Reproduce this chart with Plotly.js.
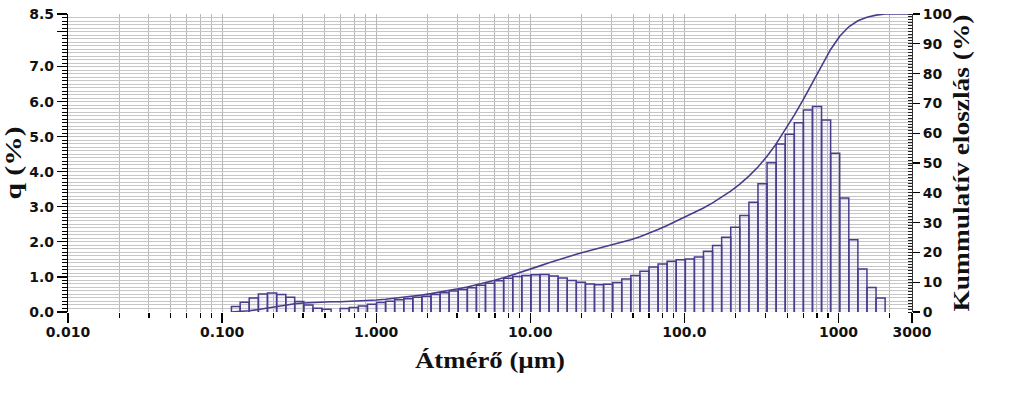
<!DOCTYPE html>
<html><head><meta charset="utf-8">
<script src="https://cdn.plot.ly/plotly-3.0.1.min.js"></script>
<style>html,body{margin:0;padding:0;background:#fff}</style>
</head><body><div id="chart" style="width:1024px;height:396px"></div>
<script>
// Size-class edges (µm) of the histogram bars
const binEdges = [0.115,0.131,0.150,0.172,0.197,0.226,0.259,0.296,0.339,0.389,0.445,0.510,0.584,0.669,0.766,0.877,
  1.005,1.151,1.318,1.510,1.729,1.981,2.269,2.599,2.976,3.409,3.905,4.472,5.122,5.867,6.720,7.697,8.816,
  10.097,11.565,13.246,15.172,17.377,19.904,22.797,26.111,29.907,34.255,39.234,44.938,51.471,58.953,67.523,77.34,88.583,
  101.46,116.21,133.10,152.45,174.62,200.0,229.08,262.38,300.52,344.21,394.25,451.56,517.20,592.39,678.50,777.14,890.12,
  1019.5,1167.7,1337.4,1531.8,1754.6,2009.6];
// q (%) for each size class
const qValues = [0.16,0.28,0.40,0.51,0.54,0.50,0.42,0.30,0.20,0.11,0.08,0.00,0.10,0.13,0.17,0.22,
  0.27,0.31,0.35,0.38,0.42,0.45,0.50,0.55,0.60,0.64,0.69,0.76,0.82,0.89,0.96,1.01,1.04,
  1.06,1.07,1.03,0.97,0.90,0.85,0.80,0.78,0.79,0.84,0.94,1.04,1.16,1.28,1.37,1.45,1.49,
  1.51,1.57,1.73,1.90,2.13,2.42,2.75,3.13,3.66,4.26,4.79,5.07,5.40,5.76,5.86,5.48,4.53,3.25,2.06,1.23,0.70,0.40];
// Cumulative distribution (%)
const cumX = [0.115,0.131,0.150,0.172,0.197,0.226,0.259,0.296,0.339,0.389,0.445,0.510,0.584,0.669,0.766,0.877,
  1.005,1.151,1.318,1.510,1.729,1.981,2.269,2.599,2.976,3.409,3.905,4.472,5.122,5.867,6.720,7.697,8.816,
  10.097,11.565,13.246,15.172,17.377,19.904,22.797,26.111,29.907,34.255,39.234,44.938,51.471,58.953,67.523,77.34,88.583,
  101.46,116.21,133.10,152.45,174.62,200.0,229.08,262.38,300.52,344.21,394.25,451.56,517.20,592.39,678.50,777.14,890.12,
  1019.5,1167.7,1337.4,1531.8,1754.6,2009.6,2301.8,2636.4,3000];
const cumY = [0,0.16,0.43,0.82,1.32,1.85,2.34,2.75,3.04,3.24,3.35,3.43,3.43,3.52,3.65,3.82,4.03,
  4.30,4.60,4.94,5.31,5.73,6.17,6.66,7.19,7.78,8.41,9.08,9.83,10.63,11.50,12.44,13.43,14.45,
  15.48,16.53,17.54,18.49,19.37,20.20,20.99,21.75,22.52,23.34,24.26,25.28,26.42,27.67,29.01,30.43,31.89,
  33.37,34.90,36.60,38.46,40.54,42.91,45.60,48.67,52.25,56.42,61.11,66.07,71.35,76.99,82.73,88.09,
  92.53,95.71,97.72,98.93,99.61,100.0,100,100,100];
// Tick labels
const xTickVals = [0.01,0.1,1,10,100,1000,3000];
const xTickText = ['0.010','0.100','1.000','10.00','100.0','1000','3000'];
const xMinorMult = [2.15,3.35,4.65,5.9,7.25,8.55];
const yTickVals = [0,1,2,3,4,5,6,7,8,8.5];
const yTickText = ['0.0','1.0','2.0','3.0','4.0','5.0','6.0','7.0','','8.5'];
const y2TickVals = [0,10,20,30,40,50,60,70,80,90,100];

const purple = '#4a3b8c';
const bx = [], by = [];
for (let i = 0; i < qValues.length; i++) {
  const l = binEdges[i], r = binEdges[i+1], h = qValues[i];
  if (h <= 0) continue;
  bx.push(l, l, r, r, null);
  by.push(0, h, h, 0, null);
}
const xMinor = [];
[0.01,0.1,1,10,100,1000].forEach(d => xMinorMult.forEach(m => { if (d*m < 3000) xMinor.push(d*m); }));

const tickFont = {family: 'DejaVu Sans', size: 14, color: '#111', weight: 700};
const titleFont = {family: 'Liberation Serif', size: 24, color: '#111', weight: 700};

const traces = [
  {x: bx, y: by, type: 'scatter', mode: 'lines', fill: 'toself', fillcolor: 'rgba(140,120,210,0.07)',
   line: {color: purple, width: 1.5}, xaxis: 'x', yaxis: 'y', hoverinfo: 'skip', showlegend: false},
  {x: cumX, y: cumY, type: 'scatter', mode: 'lines', line: {color: purple, width: 1.6},
   xaxis: 'x', yaxis: 'y2', showlegend: false}
];

const layout = {
  width: 1024, height: 396,
  margin: {l: 68, r: 112, t: 14, b: 84},
  paper_bgcolor: '#fff', plot_bgcolor: '#fff',
  showlegend: false,
  xaxis: {
    type: 'log', range: [-2, Math.log10(3000) + 0.0004],
    tickmode: 'array', tickvals: xTickVals, ticktext: xTickText,
    ticks: 'outside', ticklen: 10, tickwidth: 1.2, tickcolor: '#000',
    tickfont: tickFont, ticklabelstandoff: -3, showline: false, zeroline: false,
    showgrid: true, gridcolor: '#b8b8b8', gridwidth: 1,
    minor: {tickmode: 'array', tickvals: xMinor, ticks: 'outside', ticklen: 5, tickwidth: 1.2, tickcolor: '#000',
            showgrid: true, gridcolor: '#b8b8b8', gridwidth: 1},
    title: {text: 'Átmérő (µm)', font: titleFont, standoff: 12}
  },
  yaxis: {
    range: [0, 8.5], tickmode: 'array', tickvals: yTickVals, ticktext: yTickText,
    ticks: 'outside', ticklen: 10, tickwidth: 1.2, tickcolor: '#000',
    tickfont: tickFont, showline: true, linecolor: '#000', linewidth: 1.2, zeroline: false,
    showgrid: true, gridcolor: '#c6c6c6', gridwidth: 1,
    minor: {tickmode: 'linear', tick0: 0, dtick: 0.1, ticks: 'outside', ticklen: 5, tickwidth: 1, tickcolor: '#000',
            showgrid: true, gridcolor: '#c6c6c6', gridwidth: 1},
    title: {text: 'q (%)', font: titleFont, standoff: 8}
  },
  yaxis2: {
    overlaying: 'y', side: 'right', range: [0, 100],
    tickmode: 'array', tickvals: y2TickVals, ticktext: y2TickVals.map(String),
    ticks: 'outside', ticklen: 7, tickwidth: 1.2, tickcolor: '#000',
    tickfont: tickFont, showline: true, linecolor: '#333', linewidth: 1, zeroline: false, showgrid: false,
    minor: {tickmode: 'linear', tick0: 0, dtick: 1, ticks: 'inside', ticklen: 4, tickwidth: 1, tickcolor: '#222', showgrid: false},
    title: {text: 'Kummulatív eloszlás (%)', font: titleFont, standoff: 0}
  }
};

Plotly.newPlot('chart', traces, layout, {staticPlot: true, displayModeBar: false}).then(() => {
  const fit = (sel, len) => {
    const t = document.querySelector(sel);
    if (t) { t.setAttribute('textLength', len); t.setAttribute('lengthAdjust', 'spacingAndGlyphs'); }
  };
  fit('text.xtitle', 150);
  fit('text.ytitle', 73);
  fit('text.y2title', 297);
});
</script>
</body></html>
